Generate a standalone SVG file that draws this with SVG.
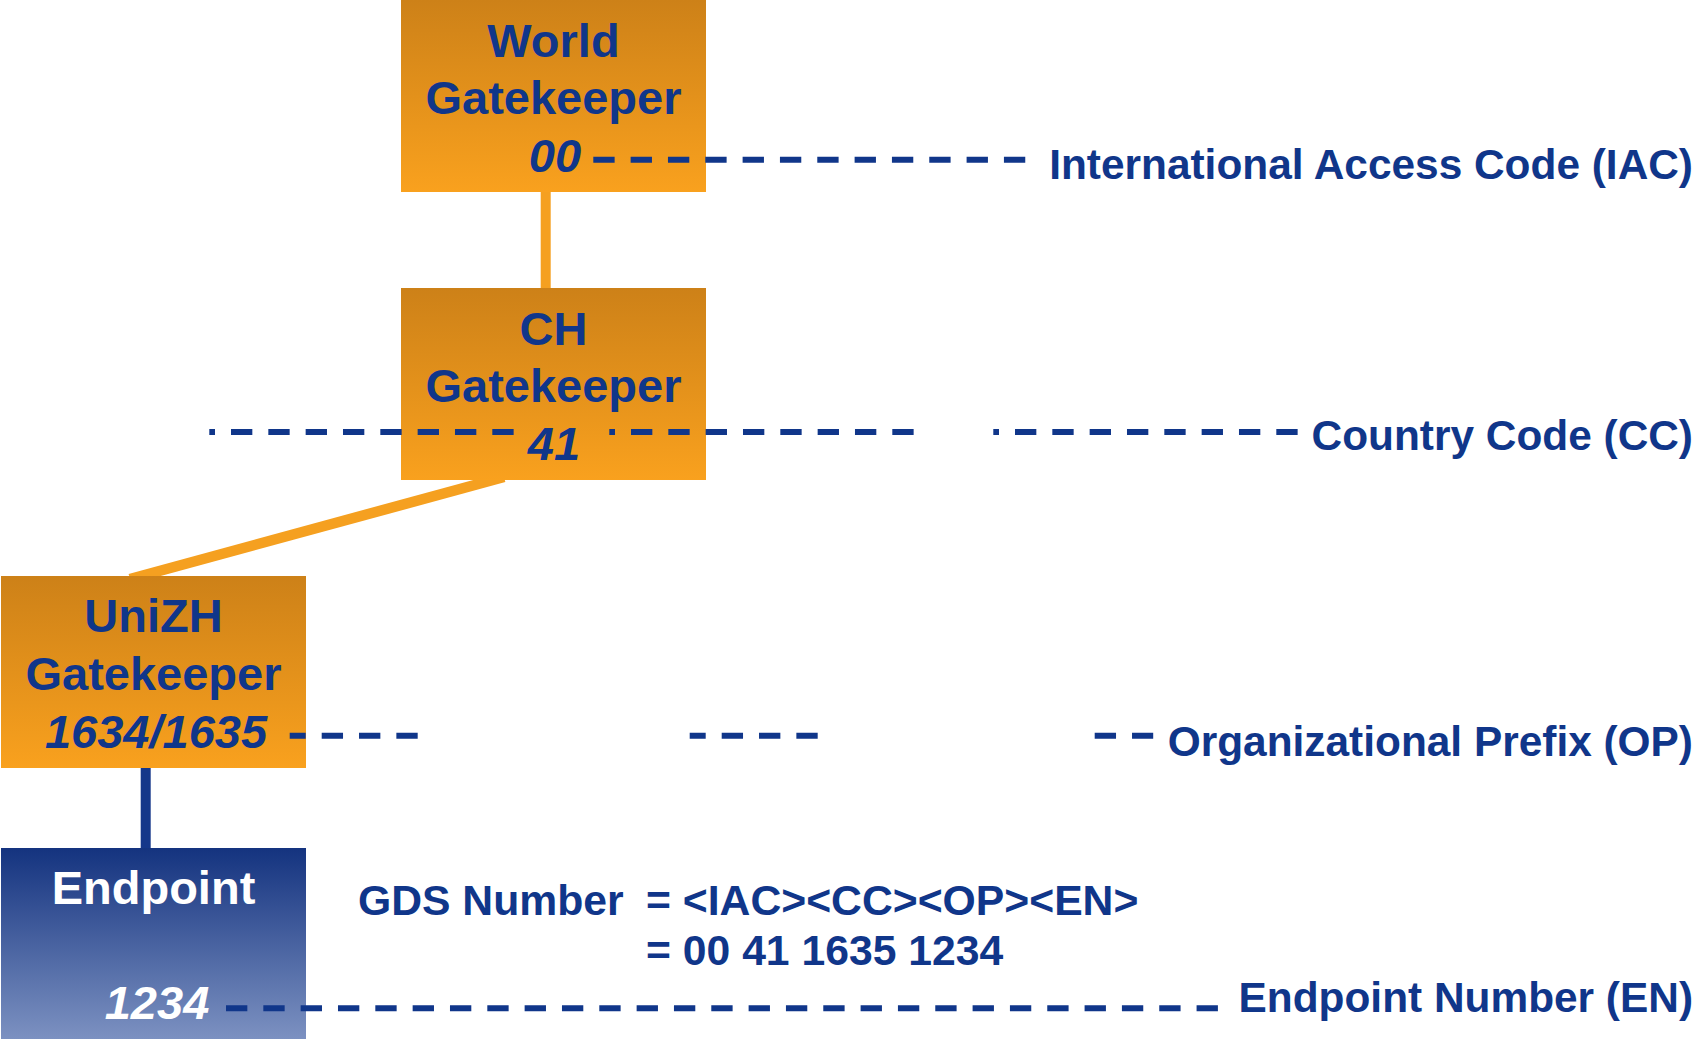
<svg xmlns="http://www.w3.org/2000/svg" width="1696" height="1039" viewBox="0 0 1696 1039">
  <style>
    .t{font-family:"Liberation Sans",Arial,sans-serif;font-weight:bold;fill:#10368a}
    .n{font-size:47px;text-anchor:middle}
    .i{font-style:italic}
    .w{fill:#ffffff}
    .lab{font-size:42.4px;text-anchor:end}
    .f{font-size:42.7px}
    .g{stroke:#10368a;stroke-width:6;fill:none;stroke-dasharray:21.33 16}
  </style>
  <defs>
    <linearGradient id="og" x1="0" y1="0" x2="0" y2="1">
      <stop offset="0" stop-color="#cd8118"/>
      <stop offset="1" stop-color="#f9a11e"/>
    </linearGradient>
    <linearGradient id="bg" x1="0" y1="0" x2="0" y2="1">
      <stop offset="0" stop-color="#14337f"/>
      <stop offset="1" stop-color="#7c91c1"/>
    </linearGradient>
  </defs>
  <rect width="1696" height="1039" fill="#ffffff"/>

  <g id="connectors">
    <line x1="545.7" y1="185" x2="545.7" y2="295" stroke="#f5a020" stroke-width="10"/>
    <line x1="504" y1="477" x2="130" y2="579" stroke="#f5a020" stroke-width="10.5"/>
    <line x1="145.7" y1="760" x2="145.7" y2="856" stroke="#15378a" stroke-width="10"/>
  </g>

  <g id="world-gatekeeper">
    <rect x="401" y="0" width="305" height="192" fill="url(#og)"/>
    <text class="t n" x="553.5" y="57">World</text>
    <text class="t n" x="553.5" y="114">Gatekeeper</text>
    <text class="t n i" x="555" y="172">00</text>
  </g>

  <g id="ch-gatekeeper">
    <rect x="401" y="288" width="305" height="192" fill="url(#og)"/>
    <text class="t n" x="553.5" y="345">CH</text>
    <text class="t n" x="553.5" y="402">Gatekeeper</text>
    <text class="t n i" x="554" y="460">41</text>
  </g>

  <g id="unizh-gatekeeper">
    <rect x="1" y="576" width="305" height="192" fill="url(#og)"/>
    <text class="t n" x="153.5" y="632">UniZH</text>
    <text class="t n" x="153.5" y="690">Gatekeeper</text>
    <text class="t n i" x="156" y="748">1634/1635</text>
  </g>

  <g id="endpoint">
    <rect x="1" y="848" width="305" height="191" fill="url(#bg)"/>
    <text class="t n w" x="153.5" y="904">Endpoint</text>
    <text class="t n i w" x="157" y="1019">1234</text>
  </g>

  <g id="guides">
    <line class="g" x1="593.3" y1="159.7" x2="1025.7" y2="159.7"/>
    <line class="g" x1="209.3" y1="432" x2="513.7" y2="432" stroke-dashoffset="15.63"/>
    <line class="g" x1="609.3" y1="432" x2="913.7" y2="432" stroke-dashoffset="15.63"/>
    <line class="g" x1="993.3" y1="432" x2="1297.7" y2="432" stroke-dashoffset="15.63"/>
    <line class="g" x1="289.7" y1="735.7" x2="418" y2="735.7" stroke-dashoffset="5.33"/>
    <line class="g" x1="689.7" y1="735.7" x2="818" y2="735.7" stroke-dashoffset="5.33"/>
    <line class="g" x1="1094.7" y1="735.7" x2="1153.2" y2="735.7"/>
    <line class="g" x1="226" y1="1008.3" x2="1218" y2="1008.3"/>
  </g>

  <g id="labels">
    <text class="t lab" x="1693" y="179">International Access Code (IAC)</text>
    <text class="t lab" x="1693" y="450">Country Code (CC)</text>
    <text class="t lab" x="1693" y="756">Organizational Prefix (OP)</text>
    <text class="t lab" x="1693" y="1012">Endpoint Number (EN)</text>
  </g>

  <g id="gds-formula">
    <text class="t f" x="358" y="915">GDS Number</text>
    <text class="t f" x="646" y="915">= &lt;IAC&gt;&lt;CC&gt;&lt;OP&gt;&lt;EN&gt;</text>
    <text class="t f" x="646" y="965">= 00 41 1635 1234</text>
  </g>
</svg>
